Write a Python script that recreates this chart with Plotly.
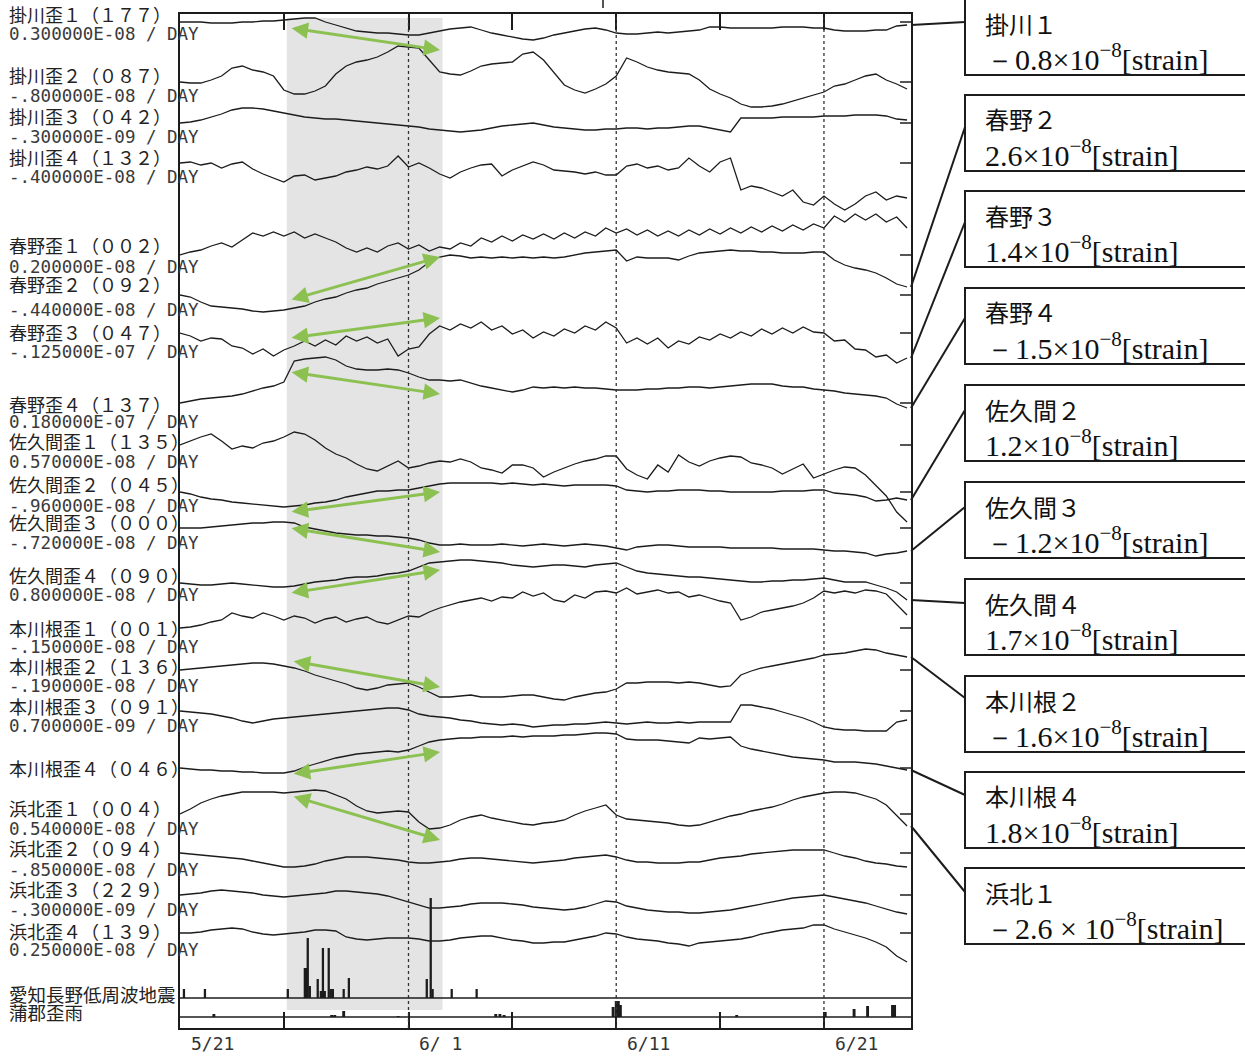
import plotly.graph_objects as go

# Sampling times: days after 5/21 00:00, one reading every 12 hours
DAYS = [i * 0.5 for i in range(71)]

# Strain change of each channel relative to its first reading (upward positive, chart units)
kakegawa_1 = [
    0, 0, 0, -1, -1, -1, 0, 0, 1, 1,
    2, 3, 4, 4, 0, -3, -6, -9, -10, -11,
    -11, -12, -13, -13, -11, -9, -7, -6, -5, -8,
    -11, -13, -15, -17, -18, -16, -13, -11, -9, -7,
    -6, -8, -11, -12, -12, -11, -10, -11, -10, -9,
    -8, -5, -5, -6, -6, -6, -6, -6, -5, -5,
    -5, -6, -6, -8, -9, -9, -9, -8, -8, -4,
    -3]
kakegawa_2 = [
    0, -1, -1, 2, 6, 14, 16, 12, 10, 6,
    -8, -12, -12, -9, -4, 8, 16, 20, 22, 25,
    30, 36, 35, 34, 22, 10, 8, 7, 11, 16,
    18, 19, 20, 28, 30, 22, 10, -3, -8, -11,
    -7, -2, 6, 24, 20, 15, 12, 10, 9, 8,
    2, -7, -12, -16, -22, -25, -25, -24, -22, -19,
    -16, -13, -10, -4, -2, 2, 6, 8, 2, -2,
    -7]
kakegawa_3 = [
    0, 1, 3, 6, 9, 13, 15, 15, 14, 12,
    10, 8, 6, 5, 4, 4, 3, 2, 1, 0,
    -1, -2, -3, -4, -6, -7, -8, -9, -8, -7,
    -5, -3, -2, -1, 0, -2, -4, -5, -6, -7,
    -7, -6, -6, -5, -5, -6, -5, -5, -4, -3,
    -3, -5, -7, -9, 5, 5, 5, 5, 6, 6,
    6, 6, 7, 7, 7, 8, 8, 8, 7, 4,
    3]
kakegawa_4 = [
    0, 1, -2, 0, -5, -1, 1, -6, -11, -15,
    -19, -13, -12, -17, -15, -13, -9, -7, -4, -6,
    -3, 7, -4, 0, -5, -11, -15, -9, -5, -2,
    -1, -13, -7, -3, 1, -2, -7, -8, -9, -11,
    -9, -12, -12, -3, -1, -5, -3, -7, -5, 5,
    -3, -9, 1, 5, -27, -23, -25, -29, -33, -27,
    -39, -42, -33, -41, -47, -41, -33, -29, -37, -33,
    -35]
haruno_1 = [
    0, 3, 5, 9, 12, 8, 15, 22, 19, 23,
    19, 23, 17, 21, 17, 13, 7, 3, 7, 3,
    9, 12, 6, 10, 4, 8, 6, 12, 9, 17,
    13, 19, 14, 20, 16, 21, 16, 22, 17, 23,
    19, 27, 22, 26, 20, 25, 19, 24, 19, 25,
    20, 26, 21, 27, 22, 28, 23, 29, 24, 30,
    25, 31, 27, 39, 33, 41, 35, 41, 33, 38,
    27]
haruno_2 = [
    0, -2, -7, -11, -12, -13, -14, -16, -17, -16,
    -15, -13, -11, -7, -4, -2, 2, 5, 7, 11,
    14, 17, 20, 25, 33, 38, 40, 39, 37, 38,
    37, 38, 37, 38, 37, 38, 37, 38, 40, 42,
    43, 44, 45, 34, 38, 37, 37, 37, 35, 39,
    42, 43, 44, 45, 44, 44, 43, 43, 42, 42,
    42, 43, 43, 35, 30, 27, 25, 22, 17, 11,
    8]
haruno_3 = [
    0, -3, -8, -5, -6, -13, -15, -21, -16, -23,
    -17, -13, -8, -13, -7, -12, -3, -8, -4, -10,
    -6, -23, -16, -14, -1, 7, 3, 9, 5, 11,
    3, 7, -1, 3, -5, 1, -3, 4, 0, 7,
    3, 11, 5, -10, -5, -11, -5, -15, -8, -11,
    -4, -7, -1, -5, 1, -3, 4, -1, 5, 0,
    6, 1, 0, -8, -7, -16, -17, -24, -22, -30,
    -25]
haruno_4 = [
    0, 2, 4, 5, 6, 7, 9, 12, 15, 17,
    21, 42, 44, 45, 46, 43, 37, 34, 33, 33,
    34, 33, 30, 26, 23, 23, 22, 23, 20, 17,
    15, 13, 11, 13, 16, 15, 16, 15, 16, 15,
    15, 14, 13, 13, 13, 14, 14, 15, 15, 16,
    16, 15, 16, 17, 18, 19, 19, 19, 17, 16,
    16, 14, 13, 12, 10, 9, 8, 7, 5, -1,
    -5]
sakuma_1 = [
    0, 4, 8, 11, 4, -4, -1, -3, 2, 4,
    8, 13, 11, 5, -3, -9, -13, -19, -24, -26,
    -21, -16, -23, -21, -18, -16, -17, -14, -17, -23,
    -25, -28, -20, -20, -23, -32, -27, -23, -19, -16,
    -14, -11, -11, -24, -30, -34, -20, -27, -10, -17,
    -21, -16, -13, -11, -12, -18, -20, -23, -29, -24,
    -19, -33, -29, -25, -22, -23, -30, -40, -51, -67,
    -77]
sakuma_2 = [
    0, -2, -5, -7, -8, -10, -11, -12, -13, -14,
    -15, -14, -13, -11, -10, -8, -5, -3, -1, 1,
    1, 2, 2, 4, 6, 8, 9, 9, 9, 9,
    9, 8, 9, 8, 7, 8, 7, 6, 7, 7,
    7, 7, 6, 2, 1, 0, 1, 1, 2, 2,
    2, 1, 1, 0, 0, 0, 0, 0, 1, 1,
    1, 2, 2, -1, -2, -3, -5, -9, -8, -6,
    -8]
sakuma_3 = [
    0, 0, 0, 1, 2, 3, 4, 5, 5, 6,
    6, 5, 1, -1, -3, -5, -6, -7, -7, -8,
    -8, -9, -10, -12, -15, -17, -17, -16, -17, -17,
    -17, -16, -17, -18, -17, -16, -17, -18, -17, -16,
    -17, -18, -20, -22, -19, -18, -17, -17, -18, -19,
    -19, -19, -19, -20, -20, -20, -20, -20, -21, -21,
    -21, -21, -22, -23, -23, -24, -25, -28, -26, -25,
    -23]
sakuma_4 = [
    0, -1, -2, -2, -1, 0, -1, -2, -3, -4,
    -4, -3, -1, 1, 2, 3, 5, 6, 6, 7,
    9, 10, 12, 16, 20, 21, 22, 23, 23, 22,
    21, 20, 18, 17, 16, 17, 18, 18, 17, 16,
    18, 19, 20, 16, 12, 10, 9, 8, 7, 6,
    6, 5, 4, 3, 2, 1, 1, 2, 2, 3,
    3, 4, 5, 3, 1, 1, 1, -2, -5, -9,
    -17]
honkawane_1 = [
    0, 1, 3, 6, 8, 15, 12, 10, 15, 12,
    8, 12, 10, 5, 9, 11, 6, 9, 11, 6,
    4, 8, 12, 11, 16, 20, 23, 26, 28, 30,
    27, 31, 30, 36, 32, 35, 28, 26, 33, 30,
    36, 37, 35, 40, 34, 36, 38, 35, 36, 31,
    33, 30, 27, 25, 8, 11, 16, 18, 20, 22,
    25, 30, 37, 35, 37, 35, 38, 37, 34, 24,
    13]
honkawane_2 = [
    0, 1, 2, 3, 4, 5, 6, 7, 7, 6,
    4, 2, -1, -5, -8, -11, -14, -18, -20, -18,
    -15, -14, -13, -17, -22, -27, -27, -26, -25, -27,
    -27, -27, -26, -25, -25, -27, -29, -30, -27, -25,
    -23, -22, -19, -13, -13, -12, -12, -12, -13, -12,
    -13, -15, -17, -16, -5, -1, 2, 4, 6, 8,
    10, 12, 15, 16, 17, 19, 21, 20, 17, 15,
    13]
honkawane_3 = [
    0, -1, -2, -3, -5, -7, -10, -12, -10, -8,
    -7, -6, -5, -4, -3, -2, -1, 0, 1, 2,
    3, 3, 1, -3, -5, -6, -7, -9, -10, -12,
    -13, -14, -13, -14, -16, -15, -14, -14, -13, -13,
    -12, -11, -12, -13, -12, -11, -12, -12, -11, -12,
    -11, -11, -11, -11, 6, 6, 4, 2, -1, -4,
    -7, -11, -16, -18, -19, -19, -20, -20, -20, -11,
    -9]
honkawane_4 = [
    0, -1, -2, -2, -3, -3, -4, -4, -5, -5,
    -5, -3, 1, 4, 7, 10, 12, 14, 15, 16,
    17, 16, 18, 22, 26, 28, 29, 30, 30, 31,
    31, 31, 32, 31, 32, 32, 32, 33, 33, 34,
    35, 35, 34, 29, 28, 28, 28, 27, 26, 25,
    30, 29, 30, 31, 22, 19, 17, 15, 13, 11,
    10, 9, 8, 6, 6, 6, 5, 4, 2, 0,
    -2]
hamakita_1 = [
    0, 5, 11, 15, 18, 20, 22, 22, 22, 22,
    21, 22, 23, 24, 23, 19, 15, 8, 3, 1,
    2, 3, 2, -8, -15, -14, -11, -6, -3, -1,
    -4, -6, -8, -10, -11, -9, -8, -6, -1, 3,
    6, 9, -1, -5, -6, -7, -8, -9, -11, -12,
    -11, -8, -5, -2, 0, 3, 5, 7, 10, 14,
    17, 19, 21, 22, 22, 21, 18, 15, 9, -2,
    -12]
hamakita_2 = [
    0, -1, -2, -3, -4, -5, -6, -8, -10, -12,
    -14, -14, -13, -11, -8, -6, -4, -4, -4, -5,
    -6, -7, -9, -10, -10, -9, -8, -6, -5, -5,
    -6, -7, -8, -9, -10, -9, -8, -7, -5, -4,
    -3, -2, -4, -7, -9, -9, -10, -10, -10, -9,
    -9, -7, -5, -4, -3, -1, 0, 1, 2, 3,
    3, 3, 3, 0, -3, -5, -8, -10, -11, -13,
    -14]
hamakita_3 = [
    0, 1, 2, 4, 5, 4, 3, 2, 0, -1,
    -2, -1, 0, 1, 2, 4, 4, 3, 2, 1,
    -1, -4, -7, -10, -13, -13, -12, -11, -9, -8,
    -8, -8, -9, -10, -12, -13, -14, -15, -14, -12,
    -9, -6, -7, -11, -13, -15, -16, -17, -17, -18,
    -18, -17, -16, -15, -13, -11, -9, -7, -5, -3,
    -2, -1, 0, -2, -4, -6, -8, -11, -14, -17,
    -19]
hamakita_4 = [
    0, 0, 1, 3, 4, 5, 4, 1, -1, -2,
    -1, 0, 1, 3, 3, 2, -4, -6, -7, -6,
    -5, -5, -5, -6, -8, -8, -7, -5, -4, -3,
    -3, -5, -7, -8, -10, -10, -9, -9, -7, -5,
    -3, 0, -1, -4, -6, -7, -8, -10, -11, -13,
    -10, -9, -8, -7, -6, -4, -1, 1, 3, 4,
    5, 8, 8, 4, 1, -2, -5, -9, -14, -23,
    -29]

# Channel names and drift-correction rates shown beside each trace
CHANNEL_NAMES = [
    "掛川歪１（１７７）", "掛川歪２（０８７）", "掛川歪３（０４２）", "掛川歪４（１３２）",
    "春野歪１（００２）", "春野歪２（０９２）", "春野歪３（０４７）", "春野歪４（１３７）",
    "佐久間歪１（１３５）", "佐久間歪２（０４５）", "佐久間歪３（０００）", "佐久間歪４（０９０）",
    "本川根歪１（００１）", "本川根歪２（１３６）", "本川根歪３（０９１）", "本川根歪４（０４６）",
    "浜北歪１（００４）", "浜北歪２（０９４）", "浜北歪３（２２９）", "浜北歪４（１３９）",
]
TREND_RATES = [
    "0.300000E-08 / DAY", "-.800000E-08 / DAY", "-.300000E-09 / DAY", "-.400000E-08 / DAY",
    "0.200000E-08 / DAY", "-.440000E-08 / DAY", "-.125000E-07 / DAY", "0.180000E-07 / DAY",
    "0.570000E-08 / DAY", "-.960000E-08 / DAY", "-.720000E-08 / DAY", "0.800000E-08 / DAY",
    "-.150000E-08 / DAY", "-.190000E-08 / DAY", "0.700000E-09 / DAY", None,
    "0.540000E-08 / DAY", "-.850000E-08 / DAY", "-.300000E-09 / DAY", "0.250000E-08 / DAY",
]
CHANNEL_SERIES = [
    kakegawa_1, kakegawa_2, kakegawa_3, kakegawa_4,
    haruno_1, haruno_2, haruno_3, haruno_4,
    sakuma_1, sakuma_2, sakuma_3, sakuma_4,
    honkawane_1, honkawane_2, honkawane_3, honkawane_4,
    hamakita_1, hamakita_2, hamakita_3, hamakita_4,
]

# Low-frequency tremor counts (Aichi-Nagano) and Gamagori rainfall
TREMOR_DAYS = [0.19, 1.20, 5.19, 6.01, 6.11, 6.15, 6.25, 6.63, 6.78, 6.88, 6.97,
               7.16, 7.26, 7.36, 7.88, 8.13, 11.88, 12.07, 12.16, 13.08, 14.28]
TREMOR_COUNTS = [9, 9, 9, 30, 30, 60, 12, 19, 7, 50, 7,
                 50, 9, 9, 9, 20, 19, 100, 9, 9, 9]
RAIN_DAYS = [1.63, 7.30, 7.45, 7.88, 10.50, 15.20, 15.40, 15.60, 20.85, 21.00,
             21.10, 21.20, 26.80, 31.06, 32.45, 33.10, 34.30, 34.40]
RAIN_AMOUNTS = [3, 2, 2, 6, 1, 3, 3, 2, 10, 16,
                16, 12, 2, 5, 8, 11, 12, 12]

# Estimated step sizes annotated on the right
STEP_LABELS = ["掛川１", "春野２", "春野３", "春野４", "佐久間２",
               "佐久間３", "佐久間４", "本川根２", "本川根４", "浜北１"]
STEP_VALUES = ["－0.8×10", "2.6×10", "1.4×10", "－1.5×10", "1.2×10",
               "－1.2×10", "1.7×10", "－1.6×10", "1.8×10", "－2.6 × 10"]
STEP_CHANNEL = [0, 5, 6, 7, 9, 10, 11, 13, 15, 16]

TICK_DAYS = [0, 5, 11, 16, 21, 26, 31]
DATE_LABELS = {0: "5/21", 11: "6/ 1", 21: "6/11", 31: "6/21"}

# ---------------------------------------------------------------- layout
W, H = 1245, 1061
L, R, T, B = 180, 334, 14, 33
PLOT_W, PLOT_H = W - L - R, H - T - B
X_MAX = 35.19
Y_MAX = PLOT_H

# stacking level of each channel (chart units, bottom = 0)
OFFSETS = [1006, 946, 905, 865, 773, 733, 695, 625, 583, 536,
           500, 445, 400, 358, 317, 260, 214, 175, 133, 95]
TREMOR_BASE = 30
RAIN_BASE = 11


def px(xp):
    return (xp - L) / PLOT_W


def py(yp):
    return (H - B - yp) / PLOT_H


INK = "#1c1c1c"
fig = go.Figure()

for name, offs, series in zip(CHANNEL_NAMES, OFFSETS, CHANNEL_SERIES):
    assert len(series) == len(DAYS), name
    fig.add_trace(go.Scatter(
        x=DAYS, y=[offs + v for v in series], mode="lines",
        line=dict(color=INK, width=1.3), name=name, hoverinfo="skip"))

fig.add_trace(go.Bar(x=TREMOR_DAYS, y=TREMOR_COUNTS, base=TREMOR_BASE, width=0.11,
                     marker=dict(color=INK, line=dict(width=0)), name="愛知長野低周波地震"))
fig.add_trace(go.Bar(x=RAIN_DAYS, y=RAIN_AMOUNTS, base=RAIN_BASE, width=0.14,
                     marker=dict(color=INK, line=dict(width=0)), name="蒲郡歪雨"))

shapes = []
# slow-slip period shading
shapes.append(dict(type="rect", xref="x", yref="y", x0=5.14, x1=12.64, y0=18, y1=1010,
                   fillcolor="#e4e4e4", line=dict(width=0), layer="below"))
# dotted day lines at 6/1, 6/11, 6/21
for d in (11, 21, 31):
    shapes.append(dict(type="line", xref="x", yref="paper", x0=d, x1=d, y0=0, y1=1,
                       line=dict(color="#333", width=1.3, dash="dot")))
# panel separators for the tremor and rain rows
for yb in (TREMOR_BASE, RAIN_BASE):
    shapes.append(dict(type="line", xref="paper", yref="y", x0=0, x1=1, y0=yb, y1=yb,
                       line=dict(color=INK, width=1.5)))
# reference marks at each trace level on the right edge
for offs in OFFSETS:
    shapes.append(dict(type="line", xref="paper", yref="y", x0=1 - 11 / PLOT_W, x1=1,
                       y0=offs, y1=offs, line=dict(color=INK, width=1.5)))
# small mark above the frame
shapes.append(dict(type="line", xref="paper", yref="paper", x0=px(603), x1=px(603),
                   y0=py(0), y1=py(8), line=dict(color=INK, width=1.5)))

# step boxes with leader lines
BOX_TOPS = [-3, 95, 191, 288, 385, 482, 579, 676, 772, 868]
LEADER_Y = [22, 127, 222, 318, 410, 507, 603, 698, 795, 892]
annotations = []
for label, val, ch, top, ly in zip(STEP_LABELS, STEP_VALUES, STEP_CHANNEL, BOX_TOPS, LEADER_Y):
    top_text = max(top, -1)
    shapes.append(dict(type="rect", xref="paper", yref="paper", x0=px(965), x1=px(1262),
                       y0=py(top_text + 76), y1=py(top), fillcolor="white",
                       line=dict(color=INK, width=2)))
    end_level = OFFSETS[ch] + CHANNEL_SERIES[ch][-1]
    shapes.append(dict(type="line", xref="paper", yref="paper", x0=px(911), x1=px(965),
                       y0=end_level / Y_MAX, y1=py(ly), line=dict(color=INK, width=2)))
    annotations.append(dict(xref="paper", yref="paper", x=px(983), y=py(top_text + 24),
                            text=label, showarrow=False, xanchor="left", yanchor="middle",
                            font=dict(family="Noto Sans CJK JP", size=24, color="#111")))
    annotations.append(dict(xref="paper", yref="paper", x=px(983), y=py(top_text + 58),
                            text=val + "<sup>−8</sup>[strain]", showarrow=False,
                            xanchor="left", yanchor="middle",
                            font=dict(family="Liberation Serif", size=30, color="#111")))

# channel labels on the left
NAME_ROWS = [14, 75, 116, 157, 245, 284, 332, 404, 441, 484,
             522, 575, 628, 666, 706, 768, 808, 848, 889, 931]
RATE_ROWS = [34, 96, 137, 177, 267, 310, 352, 422, 462, 506,
             543, 595, 647, 686, 726, None, 829, 870, 910, 950]
for name, rate, ny, ry in zip(CHANNEL_NAMES, TREND_RATES, NAME_ROWS, RATE_ROWS):
    annotations.append(dict(xref="paper", yref="paper", x=px(7), y=py(ny), text=name,
                            showarrow=False, xanchor="left", yanchor="middle",
                            font=dict(family="Noto Sans CJK JP", size=18, color="#222")))
    if rate:
        annotations.append(dict(xref="paper", yref="paper", x=px(7), y=py(ry), text=rate,
                                showarrow=False, xanchor="left", yanchor="middle",
                                font=dict(family="DejaVu Sans Mono", size=17.5, color="#3a3a3a")))
for text, ry in (("愛知長野低周波地震", 994), ("蒲郡歪雨", 1012)):
    annotations.append(dict(xref="paper", yref="paper", x=px(7), y=py(ry), text=text,
                            showarrow=False, xanchor="left", yanchor="middle",
                            font=dict(family="Noto Sans CJK JP", size=18.5, color="#222")))

# date labels under the frame
for d, text in DATE_LABELS.items():
    annotations.append(dict(xref="x", yref="paper", x=d + 1.55, y=py(1043), text=text,
                            showarrow=False, xanchor="center", yanchor="middle",
                            font=dict(family="DejaVu Sans Mono", size=18, color="#333")))

# green arrows marking the change across the shaded period
ARROW_SPANS = [(5.3, 1000, 12.52, 978), (5.3, 728, 12.52, 771), (5.3, 690, 12.52, 710),
               (5.3, 656, 12.52, 634), (5.3, 516, 12.52, 536), (5.3, 500, 12.52, 476),
               (5.3, 435, 12.52, 458), (5.4, 367, 12.52, 341), (5.4, 254, 12.52, 276),
               (5.4, 232, 12.52, 188)]
for x0, y0, x1, y1 in ARROW_SPANS:
    annotations.append(dict(xref="x", yref="y", axref="x", ayref="y", x=x1, y=y1, ax=x0, ay=y0,
                            text="", showarrow=True, arrowside="end+start", arrowhead=2,
                            startarrowhead=2, arrowsize=1.1, startarrowsize=1.1,
                            arrowwidth=3, arrowcolor="#8cc152", standoff=0, startstandoff=0))

fig.update_layout(
    width=W, height=H, margin=dict(l=L, r=R, t=T, b=B),
    paper_bgcolor="white", plot_bgcolor="white", showlegend=False, barmode="overlay",
    shapes=shapes, annotations=annotations,
    xaxis=dict(range=[0, X_MAX], tickvals=TICK_DAYS, ticks="inside", ticklen=16,
               tickwidth=1.5, tickcolor=INK, showticklabels=False, showgrid=False,
               zeroline=False, showline=True, linecolor=INK, linewidth=1.5, mirror="ticks"),
    yaxis=dict(range=[0, Y_MAX], showticklabels=False, ticks="", showgrid=False,
               zeroline=False, showline=True, linecolor=INK, linewidth=1.5, mirror=True),
)

fig.write_html("out.html")
